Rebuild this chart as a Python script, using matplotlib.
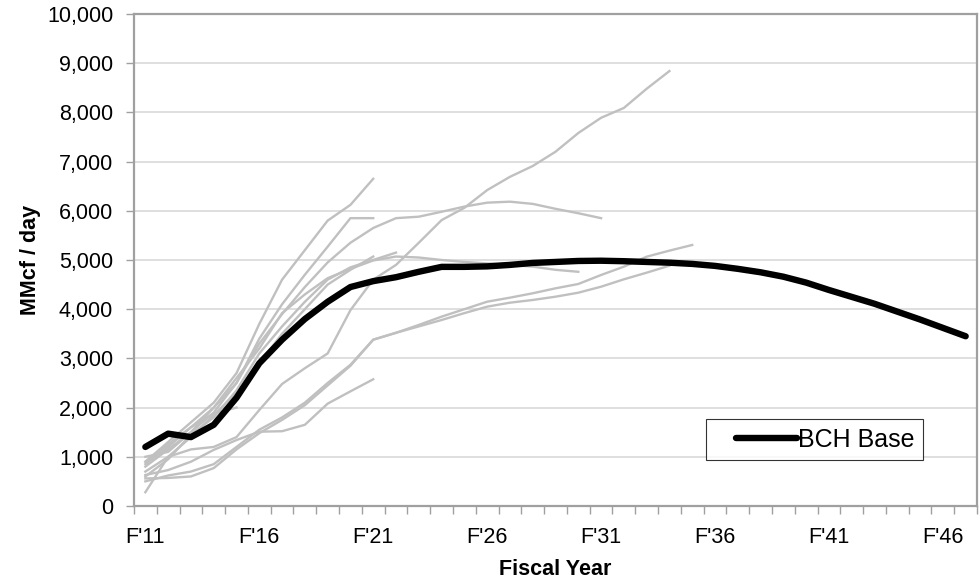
import matplotlib
matplotlib.use("Agg")
import matplotlib.pyplot as plt
import numpy as np
from matplotlib.legend_handler import HandlerLine2D
from matplotlib.ticker import FuncFormatter, FixedLocator

plt.rcParams["font.family"] = ["Liberation Sans", "DejaVu Sans"]

# fiscal years on the category axis
YEARS = [f"F'{y}" for y in range(11, 48)]
LABEL_EVERY = 5

# base case (black)
bch_base = [1200, 1470, 1400, 1650, 2200, 2900, 3380, 3800, 4150, 4450,
            4570, 4650, 4760, 4860, 4860, 4870, 4900, 4940, 4960, 4980,
            4985, 4975, 4960, 4945, 4920, 4880, 4820, 4750, 4660, 4540,
            4390, 4250, 4110, 3950, 3790, 3620, 3450]

# other forecasts (grey), all start at F'11
fc_a = [280, 1000, 1150, 1200, 1400, 1950, 2480, 2800, 3100, 3980, 4600,
        4900, 5350, 5810, 6060, 6420, 6690, 6910, 7200, 7580, 7890, 8090,
        8480, 8840]
fc_1 = [900, 1300, 1700, 2100, 2700, 3700, 4600, 5200, 5800, 6120, 6650]
fc_2 = [1000, 1100, 1500, 1900, 2500, 3400, 4100, 4700, 5270, 5850, 5850]
fc_3 = [850, 1200, 1600, 2000, 2500, 3300, 3900, 4450, 4950, 5350, 5650,
        5850, 5880, 5980, 6085, 6165, 6185, 6140, 6040, 5950, 5850]
fc_5 = [800, 1150, 1500, 2000, 2600, 3200, 3920, 4300, 4630, 4820, 4990,
        5070, 5050, 5000, 4960, 4930, 4900, 4865, 4800, 4760]
fc_6 = [700, 1000, 1400, 1850, 2300, 2900, 3500, 4000, 4500, 4800, 5070]
fc_7 = [600, 950, 1450, 1800, 2350, 3100, 3650, 4150, 4600, 4850, 5000, 5150]
fc_8 = [630, 730, 900, 1140, 1340, 1510, 1520, 1650, 2080, 2330, 2575]
fc_9 = [560, 570, 600, 770, 1150, 1480, 1750, 2050, 2450, 2850, 3380, 3520,
        3680, 3848, 4000, 4152, 4234, 4323, 4424, 4512, 4695, 4864, 5067,
        5190, 5305]
fc_10 = [500, 620, 700, 850, 1200, 1550, 1800, 2100, 2500, 2870, 3380, 3520,
         3650, 3780, 3920, 4051, 4132, 4187, 4254, 4335, 4457, 4607, 4742,
         4884]
fc_11 = [900, 1250, 1600, 1880, 2000]
grey_series = [fc_a, fc_1, fc_2, fc_3, fc_5, fc_6, fc_7, fc_8, fc_9, fc_10, fc_11]

GREY = "#c0c0c0"
AXIS_GREY = "#a0a0a0"

fig = plt.figure(figsize=(9.8, 5.82), dpi=100)
ax = fig.add_axes([0.1367, 0.1306, 0.8603, 0.8454])

for s in grey_series:
    ax.plot(np.arange(len(s)), s, color=GREY, lw=1.7, solid_joinstyle="round")
base_line, = ax.plot(np.arange(len(bch_base)), bch_base, color="black", lw=4.6,
                     solid_capstyle="round", solid_joinstyle="round",
                     label="BCH Base", zorder=5)

ax.set_xlim(-0.5, len(YEARS) - 0.5)
ax.set_ylim(0, 10000)
ax.set_yticks(np.arange(0, 10001, 1000))
ax.yaxis.set_major_formatter(FuncFormatter(lambda v, p: f"{int(v):,}"))
ax.grid(axis="y", color="#d9d9d9", lw=1.2)
ax.set_axisbelow(True)

major = list(range(0, len(YEARS), LABEL_EVERY))
ax.xaxis.set_major_locator(FixedLocator(major))
ax.set_xticklabels([YEARS[i] for i in major])
ax.xaxis.set_minor_locator(FixedLocator(np.arange(-0.5, len(YEARS), 1.0)))
ax.tick_params(axis="x", which="major", length=0, pad=15, labelsize=15.5)
ax.tick_params(axis="x", which="minor", length=6, color=AXIS_GREY, width=1)
ax.tick_params(axis="y", length=6, color=AXIS_GREY, width=1, pad=9, labelsize=15.5)

for sp in ax.spines.values():
    sp.set_color(AXIS_GREY)
    sp.set_linewidth(1.6)

ax.set_xlabel("Fiscal Year", fontsize=15.5, fontweight="bold", labelpad=8)
ax.set_ylabel("MMcf / day", fontsize=15.5, fontweight="bold", labelpad=4)

# legend line sits away from the left edge of the box, like the Excel original
leg = ax.legend(handles=[base_line], loc="lower right", bbox_to_anchor=(0.936, 0.0935),
                borderaxespad=0, fontsize=18, frameon=True, fancybox=False,
                handlelength=3.3, handletextpad=0.05, borderpad=0.33,
                handler_map={base_line: HandlerLine2D(xpad=0.85)})
leg.get_frame().set_edgecolor("black")
leg.get_frame().set_linewidth(0.8)

fig.savefig("out.png", dpi=100)
